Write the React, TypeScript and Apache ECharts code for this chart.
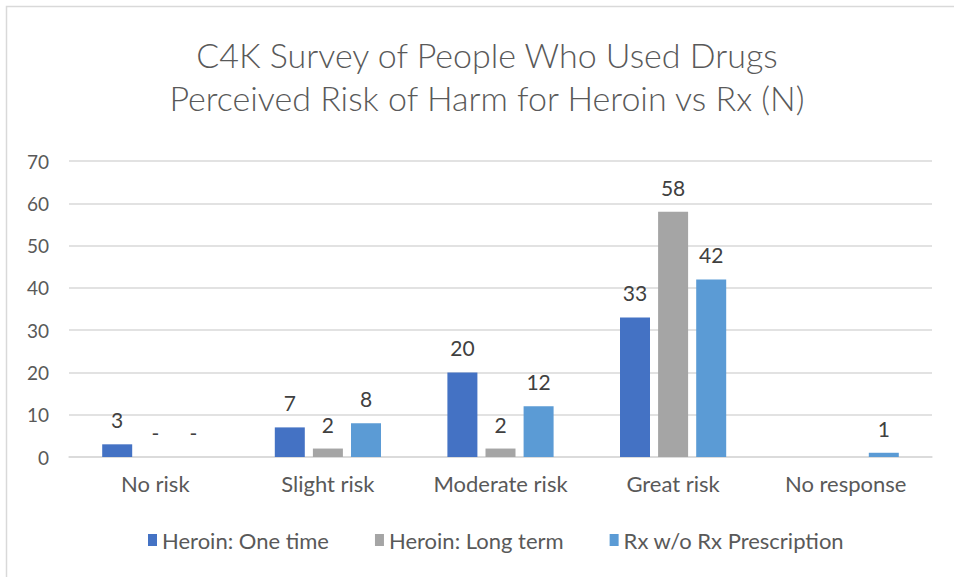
import React, { useEffect, useRef } from "react";
import * as echarts from "echarts";

const categories = ["No risk", "Slight risk", "Moderate risk", "Great risk", "No response"];
const heroinOneTime: (number | null)[] = [3, 7, 20, 33, null];
const heroinLongTerm: (number | null)[] = [0, 2, 2, 58, null];
const rxWithoutPrescription: (number | null)[] = [0, 8, 12, 42, 1];
const seriesNames = ["Heroin: One time", "Heroin: Long term", "Rx w/o Rx Prescription"];
const seriesColors = ["#4472C4", "#A5A5A5", "#5B9BD5"];
const yTicks = { min: 0, max: 70, interval: 10 };

const FONT = "Lato, 'Open Sans', sans-serif";
const TEXT = "#595959";

export default function App() {
  const ref = useRef<HTMLDivElement>(null);
  useEffect(() => {
    if (!ref.current) return;
    const chart = echarts.init(ref.current, null, { renderer: "svg" });
    const data = [heroinOneTime, heroinLongTerm, rxWithoutPrescription];
    chart.setOption({
      animation: false,
      backgroundColor: "#ffffff",
      title: {
        text: "C4K Survey of People Who Used Drugs\nPerceived Risk of Harm for Heroin vs Rx (N)",
        left: 487,
        textAlign: "center",
        top: 33,
        padding: 0,
        textStyle: {
          fontFamily: FONT,
          fontWeight: 300,
          fontSize: 34,
          lineHeight: 43,
          color: TEXT,
        },
      },
      graphic: [
        {
          type: "rect",
          shape: { x: 6.5, y: 6.5, width: 1000, height: 1000 },
          style: { fill: "none", stroke: "#d9d9d9", lineWidth: 1.5 },
          silent: true,
        },
      ],
      legend: {
        bottom: 21,
        left: 143,
        itemWidth: 9,
        itemHeight: 12,
        itemGap: 46,
        icon: "rect",
        textStyle: { fontFamily: FONT, fontSize: 22, color: TEXT },
        data: seriesNames,
      },
      grid: { left: 69, right: 22, top: 161, bottom: 120 },
      xAxis: {
        type: "category",
        data: categories,
        axisLine: { show: true, lineStyle: { color: "#d9d9d9", width: 1.5 } },
        axisTick: { show: false },
        axisLabel: { interval: 0, fontFamily: FONT, fontSize: 22, color: TEXT, margin: 15 },
      },
      yAxis: {
        type: "value",
        min: yTicks.min,
        max: yTicks.max,
        interval: yTicks.interval,
        axisLine: { show: false },
        axisTick: { show: false },
        splitLine: { lineStyle: { color: "#d9d9d9", width: 1.5 } },
        axisLabel: { fontFamily: FONT, fontSize: 19, color: TEXT, margin: 20 },
      },
      series: seriesNames.map((name, i) => ({
        name,
        type: "bar",
        data: data[i],
        barWidth: 30,
        barGap: "27%",
        itemStyle: { color: seriesColors[i] },
        label: {
          show: true,
          position: "top",
          distance: 14,
          fontFamily: FONT,
          fontSize: 21,
          color: "#404040",
          formatter: (p: any) => (p.value === 0 ? "-" : String(p.value)),
        },
      })),
    });
    return () => chart.dispose();
  }, []);
  return (
    <div
      ref={ref}
      style={{ position: "absolute", left: 0, top: 0, width: 954, height: 577 }}
    />
  );
}
